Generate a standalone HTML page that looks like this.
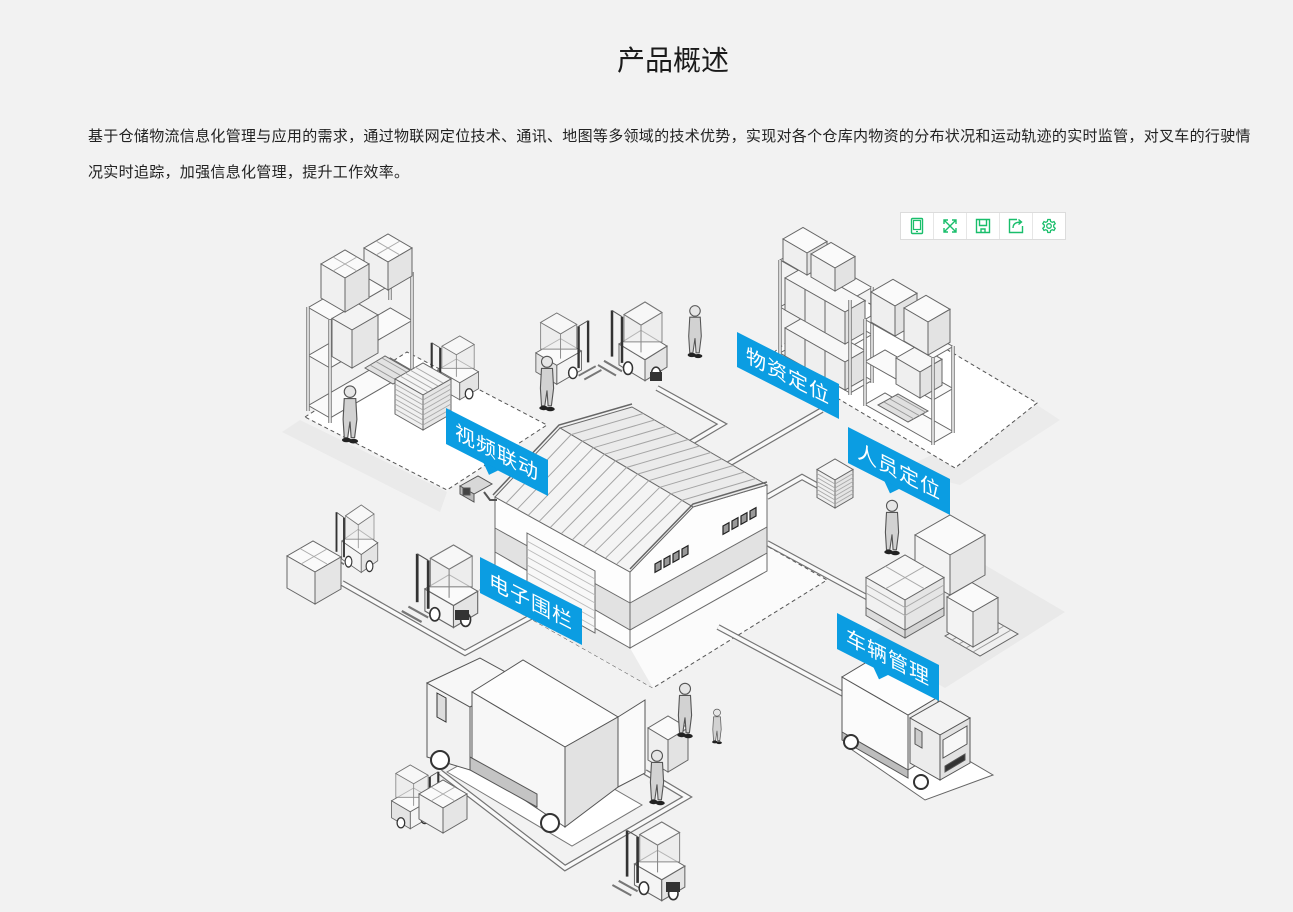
<!DOCTYPE html>
<html><head><meta charset="utf-8">
<style>
html,body{margin:0;padding:0;}
body{width:1293px;height:912px;background:#f2f2f2;position:relative;overflow:hidden;font-family:"Liberation Sans","Noto Sans CJK SC",sans-serif;color:#222;}
.title{position:absolute;left:617px;top:41px;height:40px;line-height:40px;font-size:28px;color:#1a1a1a;white-space:nowrap;}
.p{position:absolute;left:88px;top:119px;font-size:15px;line-height:36px;letter-spacing:0.3px;white-space:nowrap;color:#222;}
.tb{position:absolute;left:900px;top:212px;height:26px;border:1px solid #dcdcdc;background:#fff;display:flex;}
.tb div{width:32px;height:26px;border-right:1px solid #e6e6e6;display:flex;align-items:center;justify-content:center;}
.tb div:last-child{border-right:none}
svg.ill{position:absolute;left:0;top:0;}
</style></head><body>
<div class="title">产品概述</div>
<div class="p">基于仓储物流信息化管理与应用的需求，通过物联网定位技术、通讯、地图等多领域的技术优势，实现对各个仓库内物资的分布状况和运动轨迹的实时监管，对叉车的行驶情<br>况实时追踪，加强信息化管理，提升工作效率。</div>

<svg class="ill" width="1293" height="912" viewBox="0 0 1293 912" xmlns="http://www.w3.org/2000/svg">
<defs>
 <g id="wk">
  <circle cx="0" cy="-42" r="5" fill="#e6e6e6" stroke="#555"/>
  <path d="M-5,-36 L5,-36 L6,-18 L4,-2 L1,-2 L0,-16 L-2,-2 L-5,-2 L-6,-18 Z" fill="#d2d2d2" stroke="#555"/>
  <ellipse cx="-3" cy="0" rx="4" ry="2" fill="#222"/>
  <ellipse cx="3" cy="1" rx="4" ry="2" fill="#222"/>
 </g>
 <g id="fk">
  <path d="M-12,60 L6,70 M-6,56 L12,66" stroke="#777" stroke-width="2" fill="none"/>
  <polygon points="35,55 9,40 9,60 35,75" fill="#f4f4f4" stroke="#666"/>
  <polygon points="35,55 57,42 57,62 35,75" fill="#e4e4e4" stroke="#666"/>
  <polygon points="35,55 9,40 31,27 57,42" fill="#fafafa" stroke="#666"/>
  <polygon points="14,38 14,12 35,0 52,10 52,38" fill="#eaeaea" fill-opacity=".6" stroke="#888"/>
  <polygon points="14,12 35,0 52,10 31,22" fill="#f7f7f7" stroke="#777"/>
  <line x1="31" y1="22" x2="31" y2="48" stroke="#888"/>
  <line x1="2" y1="52" x2="2" y2="8" stroke="#333" stroke-width="2.5"/>
  <line x1="12" y1="58" x2="12" y2="14" stroke="#333" stroke-width="2.5"/>
  <line x1="2" y1="8" x2="12" y2="14" stroke="#555"/>
  <ellipse cx="18" cy="63" rx="4.5" ry="6" fill="#fff" stroke="#333" stroke-width="1.5"/>
  <ellipse cx="46" cy="68" rx="4.5" ry="6" fill="#fff" stroke="#333" stroke-width="1.5"/>
 </g>
</defs>

<!-- soft shadows -->
<polygon points="300,420 447,492 440,512 282,432" fill="#eaeaea"/>
<polygon points="860,640 985,565 1065,612 945,688" fill="#e9e9e9"/>
<polygon points="900,470 1037,405 1060,420 960,485" fill="#ebebeb"/>

<!-- platforms -->
<polygon points="305,417 407,352 547,425 447,490" fill="#fff" stroke="#555" stroke-dasharray="4,3"/>
<polygon points="768,357 850,292 1037,403 955,468" fill="#fff" stroke="#555" stroke-dasharray="4,3"/>
<polygon points="480,590 654,482 827,580 653,688" fill="#fbfbfb" stroke="#555" stroke-dasharray="4,3"/>
<polygon points="480,590 495,572 630,648 653,688" fill="#ececec"/>

<!-- roads -->
<g fill="none">
 <g stroke="#747474" stroke-width="6">
  <polyline points="657,388 722,424 690,443"/>
  <polyline points="727,465 822,410"/>
  <polyline points="767,497 802,477 820,487"/>
  <polyline points="767,543 885,607"/>
  <polyline points="718,627 845,695"/>
  <polyline points="342,583 465,653 540,612"/>
  <polyline points="440,772 565,868 687,797 645,772"/>
 </g>
 <g stroke="#f9f9f9" stroke-width="3.6">
  <polyline points="657,388 722,424 690,443"/>
  <polyline points="727,465 822,410"/>
  <polyline points="767,497 802,477 820,487"/>
  <polyline points="767,543 885,607"/>
  <polyline points="718,627 845,695"/>
  <polyline points="342,583 465,653 540,612"/>
  <polyline points="440,772 565,868 687,797 645,772"/>
 </g>
</g>

<!-- TL shelf -->
<g stroke="#666" stroke-width="1">
 <polygon points="330,418 308.3,405.5 390.3,358 412,370.5" fill="#fafafa"/>
 <polygon points="365,368 385,356 413,372 393,384" fill="#e2e2e2"/>
 <path d="M370,365L398,381 M376,361.5L404,377.5 M382,358L410,374" stroke="#999"/>
 <polygon points="330,368 308.3,355.5 390.3,308 412,320.5" fill="#fafafa"/>
 <polygon points="330,320 308.3,307.5 390.3,260 412,272.5" fill="#fafafa"/>
</g>
<g stroke="#777" stroke-width="3.5"><path d="M308,307V411 M330,320V423 M412,272V377 M390,260V300"/></g>
<g stroke="#f6f6f6" stroke-width="1.5"><path d="M308,307V411 M330,320V423 M412,272V377 M390,260V300"/></g>
<g stroke="#666" fill="#f3f3f3">
 <polygon points="352,330 332,318.5 358,303.5 378,315"/>
 <polygon points="332,318.5 352,330 352,368 332,356.5" fill="#f0f0f0"/>
 <polygon points="352,330 378,315 378,353 352,368" fill="#e6e6e6"/>
 <polygon points="388,262 364,248 388,234 412,248" fill="#fafafa"/>
 <polygon points="364,248 388,262 388,290 364,276" fill="#f0f0f0"/>
 <polygon points="388,262 412,248 412,276 388,290" fill="#e4e4e4"/>
 <polygon points="345,278 321,264 345,250 369,264" fill="#fafafa"/>
 <polygon points="321,264 345,278 345,312 321,298" fill="#f0f0f0"/>
 <polygon points="345,278 369,264 369,298 345,312" fill="#e4e4e4"/>
</g>
<path d="M333,257L357,271 M333,271L357,257 M376,241L400,255 M376,255L400,241" stroke="#aaa"/>

<use href="#fk" transform="translate(430,336) scale(.85)"/>
<g stroke="#666">
 <polygon points="423,395 395,379 423,363 451,379" fill="#f5f5f5"/>
 <polygon points="395,379 423,395 423,430 395,414" fill="#f0f0f0"/>
 <polygon points="423,395 451,379 451,414 423,430" fill="#e6e6e6"/>
 <path d="M395,384L423,400 M395,389L423,405 M395,394L423,410 M395,399L423,415 M395,404L423,420 M395,409L423,425 M423,400L451,384 M423,405L451,389 M423,410L451,394 M423,415L451,399 M423,420L451,404 M423,425L451,409 M400,376L428,392 M405,373L433,389 M410,370L438,386 M415,367L443,383" stroke="#aaa" fill="none"/>
</g>
<use href="#wk" transform="translate(350,440) scale(1.15)"/>

<!-- top center forklifts -->
<use href="#fk" transform="translate(590,313) scale(-0.95,0.95)"/>
<use href="#wk" transform="translate(547,408) scale(1.1)"/>
<use href="#fk" transform="translate(610,302) scale(1,1.05)"/>
<rect x="650" y="372" width="12" height="9" fill="#333"/>
<use href="#wk" transform="translate(695,355) scale(1.05)"/>

<!-- TR shelf 1 -->
<g stroke="#666">
 <polygon points="850,393 780,353 802,340.5 872,380.5" fill="#fafafa"/>
 <polygon points="850,347 780,307 802,294.5 872,334.5" fill="#fafafa"/>
 <polygon points="845,362 785,328 805,316.5 865,350.5" fill="#f7f7f7"/>
 <polygon points="785,328 845,362 845,390 785,356" fill="#efefef"/>
 <polygon points="845,362 865,350.5 865,378.5 845,390" fill="#e3e3e3"/>
 <path d="M805,339.3V367.3 M825,350.7V378.7" fill="none"/>
 <polygon points="850,300 780,260 802,247.5 872,287.5" fill="#fafafa"/>
 <polygon points="845,312 785,278 805,266.5 865,300.5" fill="#f7f7f7"/>
 <polygon points="785,278 845,312 845,344 785,310" fill="#efefef"/>
 <polygon points="845,312 865,300.5 865,332.5 845,344" fill="#e3e3e3"/>
 <path d="M805,289.3V321.3 M825,300.7V332.7" fill="none"/>
 <polygon points="807,253 783,239 803,227.5 827,241.5" fill="#fafafa"/>
 <polygon points="783,239 807,253 807,275 783,261" fill="#efefef"/>
 <polygon points="807,253 827,241.5 827,263.5 807,275" fill="#e3e3e3"/>
 <polygon points="835,268 811,254 831,242.5 855,256.5" fill="#fafafa"/>
 <polygon points="811,254 835,268 835,291 811,277" fill="#efefef"/>
 <polygon points="835,268 855,256.5 855,279.5 835,291" fill="#e3e3e3"/>
</g>
<g stroke="#777" stroke-width="3.5"><path d="M780,260V355 M850,300V395 M872,287V383"/></g>
<g stroke="#f6f6f6" stroke-width="1.5"><path d="M780,260V355 M850,300V395 M872,287V383"/></g>

<!-- TR shelf 2 -->
<g stroke="#666">
 <polygon points="933,443 865,404.5 885,393 953,431.5" fill="#fafafa"/>
 <polygon points="878,405 898,394 928,411 908,422" fill="#e0e0e0"/>
 <path d="M884,402L914,419 M890,399L920,416 M896,395.5L926,412.5" stroke="#999" fill="none"/>
 <polygon points="933,400 865,361.5 885,350 953,388.5" fill="#fafafa"/>
 <polygon points="920,372 896,358 918,345.3 942,359.3" fill="#f7f7f7"/>
 <polygon points="896,358 920,372 920,398 896,384" fill="#efefef"/>
 <polygon points="920,372 942,359.3 942,385.3 920,398" fill="#e3e3e3"/>
 <polygon points="933,358 865,319.5 885,308 953,346.5" fill="#fafafa"/>
 <polygon points="895,306 871,292 893,279.3 917,293.3" fill="#fafafa"/>
 <polygon points="871,292 895,306 895,336 871,322" fill="#efefef"/>
 <polygon points="895,306 917,293.3 917,323.3 895,336" fill="#e3e3e3"/>
 <polygon points="928,322 904,308 926,295.3 950,309.3" fill="#fafafa"/>
 <polygon points="904,308 928,322 928,355 904,341" fill="#efefef"/>
 <polygon points="928,322 950,309.3 950,342.3 928,355" fill="#e3e3e3"/>
</g>
<g stroke="#777" stroke-width="3.5"><path d="M865,319V406 M933,358V445 M953,346V433"/></g>
<g stroke="#f6f6f6" stroke-width="1.5"><path d="M865,319V406 M933,358V445 M953,346V433"/></g>

<!-- right middle -->
<g stroke="#666">
 <polygon points="835,480 817,469.5 835,459 853,469.5" fill="#f5f5f5"/>
 <polygon points="817,469.5 835,480 835,508 817,497.5" fill="#f0f0f0"/>
 <polygon points="835,480 853,469.5 853,497.5 835,508" fill="#e5e5e5"/>
 <path d="M817,473.5L835,484 M817,477.5L835,488 M817,481.5L835,492 M817,485.5L835,496 M817,489.5L835,500 M817,493.5L835,504 M835,484L853,473.5 M835,488L853,477.5 M835,492L853,481.5 M835,496L853,485.5 M835,500L853,489.5 M835,504L853,493.5" stroke="#aaa" fill="none"/>
</g>
<use href="#wk" transform="translate(892,552) scale(1.1)"/>
<g stroke="#666">
 <polygon points="950,555 915,535 950,515 985,535" fill="#fafafa"/>
 <polygon points="915,535 950,555 950,595 915,575" fill="#f3f3f3"/>
 <polygon points="950,555 985,535 985,575 950,595" fill="#e6e6e6"/>
 <polygon points="945,636 980,656 1018,634 983,614" fill="#f0f0f0"/>
 <path d="M952,640L990,618 M959,644L997,622 M966,648L1004,626 M973,652L1011,630" stroke="#999" fill="none"/>
 <polygon points="973,612 947,597 972,582.6 998,597.6" fill="#fafafa"/>
 <polygon points="947,597 973,612 973,647 947,632" fill="#f3f3f3"/>
 <polygon points="973,612 998,597.6 998,632.6 973,647" fill="#e6e6e6"/>
 <polygon points="866,607.5 905,630 905,638 866,615.5" fill="#ddd"/>
 <polygon points="905,630 944,607.5 944,615.5 905,638" fill="#d4d4d4"/>
 <polygon points="905,600 866,577.5 905,555 944,577.5" fill="#f7f7f7"/>
 <polygon points="866,577.5 905,600 905,630 866,607.5" fill="#f1f1f1"/>
 <polygon points="905,600 944,577.5 944,607.5 905,630" fill="#e5e5e5"/>
 <path d="M885.5,566.3L924.5,588.8 M885.5,588.8L924.5,566.3 M866,585L905,607.5L944,585 M866,593L905,615.5L944,593" stroke="#aaa" fill="none"/>
</g>

<!-- WAREHOUSE -->
<g stroke="#6a6a6a" stroke-width="1">
 <polygon points="495,497 630,572 630,648 495,572" fill="#fdfdfd"/>
 <polygon points="495,528 630,603 630,630 495,552" fill="#e2e2e2"/>
 <polygon points="630,572 693,507 767,485 767,571 630,648" fill="#fdfdfd"/>
 <polygon points="630,603 767,527 767,553 630,630" fill="#e2e2e2"/>
 <polygon points="527,533 595,571 595,633 527,595" fill="#f8f8f8"/>
 <path d="M527,541L595,579 M527,549L595,587 M527,557L595,595 M527,565L595,603 M527,573L595,611 M527,581L595,619 M527,589L595,627" stroke="#bbb" fill="none"/>
 <polygon points="560,428 632,407 767,485 693,507" fill="#ebebeb"/>
 <polygon points="495,497 560,428 693,507 630,572" fill="#f4f4f4"/>
</g>
<g stroke="#a5a5a5" stroke-width="1" fill="none">
 <path d="M506.1,503.1L571.1,434.6 M517.2,509.2L582.2,441.2 M528.3,515.3L593.3,447.8 M539.3,521.3L604.3,454.3 M550.4,527.4L615.4,460.9 M561.5,533.5L626.5,467.5 M572.6,539.6L637.6,474.1 M583.7,545.7L648.7,480.7 M594.8,551.8L659.8,487.3 M605.8,557.8L670.8,493.8 M616.9,563.9L681.9,500.4"/>
 <path d="M571.1,434.6L643.3,413.5 M582.2,441.2L654.5,420 M593.3,447.8L665.8,426.5 M604.3,454.3L677,433 M615.4,460.9L688.3,439.5 M626.5,467.5L699.5,446 M637.6,474.1L710.8,452.5 M648.7,480.7L722,459 M659.8,487.3L733.3,465.5 M670.8,493.8L744.5,472 M681.9,500.4L755.8,478.5"/>
</g>
<path d="M493,495L559,425L632,404 M630,569L693,504L767,482" stroke="#666" stroke-width="1.5" fill="none"/>
<g fill="#999" stroke="#222" stroke-width="1.2">
 <polygon points="655,564 661,560.6 661,569 655,572.4"/>
 <polygon points="664,559 670,555.6 670,564 664,567.4"/>
 <polygon points="673,554 679,550.6 679,559 673,562.4"/>
 <polygon points="682,549 688,545.6 688,554 682,557.4"/>
 <polygon points="723,526 729,522.6 729,531 723,534.4"/>
 <polygon points="732,521 738,517.6 738,526 732,529.4"/>
 <polygon points="741,516 747,512.6 747,521 741,524.4"/>
 <polygon points="750,511 756,507.6 756,516 750,519.4"/>
</g>
<!-- camera -->
<g stroke="#555">
 <polygon points="460,486 478,476 492,484 474,494" fill="#d8d8d8"/>
 <polygon points="460,486 474,494 474,502 460,494" fill="#bbb"/>
 <rect x="463" y="488" width="7" height="7" fill="#444"/>
 <path d="M484,492 L490,500 L497,500" fill="none" stroke-width="2"/>
</g>

<!-- left middle forklifts -->
<use href="#fk" transform="translate(335,505) scale(0.75,0.9)"/>
<g stroke="#666">
 <polygon points="315,572 287,556 313,541 341,557" fill="#fafafa"/>
 <polygon points="287,556 315,572 315,604 287,588" fill="#f1f1f1"/>
 <polygon points="315,572 341,557 341,589 315,604" fill="#e5e5e5"/>
 <path d="M300,548.5L327,564 M301,564L327,549" stroke="#aaa" fill="none"/>
</g>
<use href="#fk" transform="translate(415,545) scale(1.1)"/>
<rect x="455" y="610" width="14" height="10" fill="#333"/>

<!-- bottom-left truck -->
<polygon points="447,772 572,846 642,805 517,733" fill="#fff" stroke="#777"/>
<g stroke="#555">
 <polygon points="427,683 470,707 470,770 427,757" fill="#f2f2f2"/>
 <polygon points="427,683 480,658 520,680 470,707" fill="#f7f7f7"/>
 <polygon points="437,693 446,698 446,722 437,717" fill="#ddd" stroke="#333"/>
 <polygon points="472,692 523,660 618,717 565,747" fill="#fdfdfd"/>
 <polygon points="472,692 565,747 565,827 472,765" fill="#f7f7f7"/>
 <polygon points="565,747 618,717 618,787 565,827" fill="#e2e2e2"/>
 <polygon points="618,717 645,700 645,773 618,787" fill="#fafafa"/>
 <polygon points="470,757 537,794 537,807 470,770" fill="#c4c4c4"/>
 <circle cx="440" cy="760" r="9" fill="#fff" stroke="#333" stroke-width="2"/>
 <circle cx="550" cy="823" r="9" fill="#fff" stroke="#333" stroke-width="2"/>
</g>
<!-- small shelf by workers -->
<g stroke="#666">
 <polygon points="668,740 648,728 668,716 688,728" fill="#fafafa"/>
 <polygon points="648,728 668,740 668,772 648,760" fill="#efefef"/>
 <polygon points="668,740 688,728 688,760 668,772" fill="#e3e3e3"/>
</g>
<use href="#wk" transform="translate(685,735) scale(1.1)"/>
<use href="#wk" transform="translate(657,802) scale(1.1)"/>
<use href="#wk" transform="translate(717,742) scale(0.7)"/>

<use href="#fk" transform="translate(440,765) scale(-0.85,0.85)"/>
<g stroke="#666">
 <polygon points="443,808 419,794 443,780 467,794" fill="#fafafa"/>
 <polygon points="419,794 443,808 443,833 419,819" fill="#f1f1f1"/>
 <polygon points="443,808 467,794 467,819 443,833" fill="#e5e5e5"/>
 <path d="M431,787L455,801 M431,801L455,787" stroke="#aaa" fill="none"/>
</g>
<use href="#fk" transform="translate(625,822) scale(1.05)"/>
<rect x="666" y="882" width="14" height="10" fill="#333"/>

<!-- right-bottom truck -->
<polygon points="845,745 925,800 993,775 913,728" fill="#fff" stroke="#666"/>
<g stroke="#555">
 <polygon points="842,677 908,715 908,770 842,732" fill="#fbfbfb"/>
 <polygon points="908,715 938,697 938,752 908,770" fill="#eee"/>
 <polygon points="908,715 842,677 872,659 938,697" fill="#fdfdfd"/>
 <polygon points="842,732 908,770 908,778 842,740" fill="#bdbdbd"/>
 <polygon points="940,735 910,718 940,701 970,718" fill="#f3f3f3"/>
 <polygon points="910,718 940,735 940,780 910,763" fill="#ececec"/>
 <polygon points="940,735 970,718 970,763 940,780" fill="#e2e2e2"/>
 <polygon points="943,740 967,726 967,744 943,758" fill="#f7f7f7"/>
 <polygon points="915,728 922,732 922,748 915,744" fill="#ccc"/>
 <polygon points="945,766 965,754 965,760 945,772" fill="#333"/>
 <circle cx="851" cy="742" r="7" fill="#fff" stroke="#333" stroke-width="2"/>
 <circle cx="921" cy="782" r="7" fill="#fff" stroke="#333" stroke-width="2"/>
</g>

<!-- banners -->
<g font-family="'Liberation Sans','Noto Sans CJK SC',sans-serif" font-size="20" fill="#fff" text-anchor="middle">
 <g transform="translate(446,408) skewY(27)">
  <rect width="102" height="36" fill="#0b9de2"/>
  <polygon points="37,35 53,35 43,45" fill="#0b9de2"/>
  <text x="51" y="25.5" fill="#fff" letter-spacing="1">视频联动</text>
 </g>
 <g transform="translate(737,332) skewY(27)">
  <rect width="102" height="35" fill="#0b9de2"/>
  <text x="51" y="25" fill="#fff" letter-spacing="1">物资定位</text>
 </g>
 <g transform="translate(848,427) skewY(27)">
  <rect width="102" height="36" fill="#0b9de2"/>
  <polygon points="36,35 52,35 42,45" fill="#0b9de2"/>
  <text x="51" y="25.5" fill="#fff" letter-spacing="1">人员定位</text>
 </g>
 <g transform="translate(837,613) skewY(27)">
  <rect width="102" height="36" fill="#0b9de2"/>
  <polygon points="36,35 52,35 42,45" fill="#0b9de2"/>
  <text x="51" y="25.5" fill="#fff" letter-spacing="1">车辆管理</text>
 </g>
 <g transform="translate(480,557) skewY(27)">
  <rect width="102" height="36" fill="#0b9de2"/>
  <text x="51" y="25.5" fill="#fff" letter-spacing="1">电子围栏</text>
 </g>
</g>
</svg>

<div class="tb">
 <div><svg width="16" height="18" viewBox="0 0 16 18"><rect x="2.5" y="1.5" width="11" height="15" rx="1" fill="none" stroke="#19be6b" stroke-width="1.4"/><rect x="4.5" y="3.5" width="7" height="9" fill="none" stroke="#19be6b" stroke-width="1.2"/><line x1="7" y1="14.5" x2="9" y2="14.5" stroke="#19be6b" stroke-width="1.2"/></svg></div>
 <div><svg width="16" height="16" viewBox="0 0 16 16" fill="none" stroke="#19be6b" stroke-width="1.4"><path d="M2,2L14,14 M14,2L2,14 M2,6V2H6 M10,2H14V6 M14,10V14H10 M6,14H2V10"/></svg></div>
 <div><svg width="16" height="16" viewBox="0 0 16 16" fill="none" stroke="#19be6b" stroke-width="1.4"><path d="M1.5,1.5H14.5V14.5H1.5Z M4.5,1.5V7.5H11.5V1.5 M6,14.5V11H10V14.5"/></svg></div>
 <div><svg width="16" height="16" viewBox="0 0 16 16" fill="none" stroke="#19be6b" stroke-width="1.4"><path d="M9,1.5H1.5V14.5H14.5V8 M5,10C5,6 8,4 13,4 M10.5,1.5L13.5,4L10.5,6.5"/></svg></div>
 <div><svg width="16" height="16" viewBox="0 0 16 16" fill="none" stroke="#19be6b" stroke-width="1.3"><circle cx="8" cy="8" r="2.3"/><path d="M6.8,1.5H9.2L9.6,3.4L11.2,4.3L13,3.6L14.2,5.7L12.7,7V9L14.2,10.3L13,12.4L11.2,11.7L9.6,12.6L9.2,14.5H6.8L6.4,12.6L4.8,11.7L3,12.4L1.8,10.3L3.3,9V7L1.8,5.7L3,3.6L4.8,4.3L6.4,3.4Z"/></svg></div>
</div>
</body></html>
